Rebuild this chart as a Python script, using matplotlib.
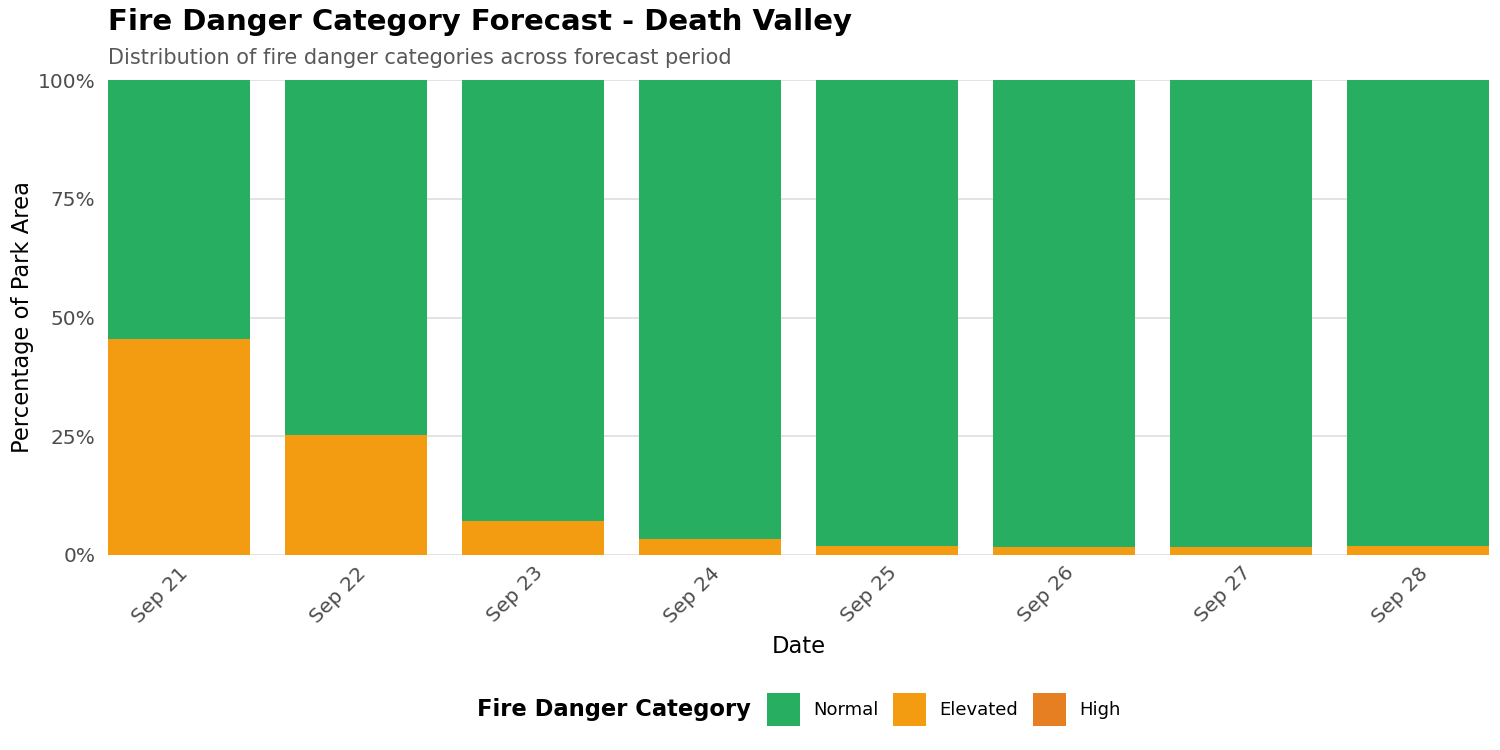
import numpy as np
import matplotlib.pyplot as plt
from matplotlib.patches import Patch
from matplotlib.ticker import FuncFormatter

# Forecast data (percentage of park area per category)
dates = ['Sep 21', 'Sep 22', 'Sep 23', 'Sep 24', 'Sep 25', 'Sep 26', 'Sep 27', 'Sep 28']
elevated = [45.5, 25.3, 7.1, 3.4, 2.0, 1.6, 1.6, 1.8]
high = [0, 0, 0, 0, 0, 0, 0, 0]
normal = [100 - e - h for e, h in zip(elevated, high)]

categories = ['Normal', 'Elevated', 'High']
colors = {'Normal': '#27ae60', 'Elevated': '#f39c12', 'High': '#e67e22'}

plt.rcParams['font.family'] = 'DejaVu Sans'

fig = plt.figure(figsize=(15, 7.5), dpi=100)
ax = fig.add_axes([0.072, 0.26, 0.9207, 0.6333])

x = np.arange(len(dates))
width = 0.8
ax.bar(x, elevated, width, color=colors['Elevated'], zorder=2)
ax.bar(x, high, width, bottom=elevated, color=colors['High'], zorder=2)
ax.bar(x, normal, width, bottom=np.add(elevated, high), color=colors['Normal'], zorder=2)

ax.set_xlim(-0.4, len(dates) - 0.6)
ax.set_ylim(0, 100)
ax.set_yticks([0, 25, 50, 75, 100])
ax.yaxis.set_major_formatter(FuncFormatter(lambda v, p: f'{v:.0f}%'))
ax.set_xticks(x)
ax.set_xticklabels(dates, rotation=45, ha='right', rotation_mode='anchor')

ax.grid(axis='y', color='#e0e0e0', linewidth=1.3, zorder=0)
for s in ax.spines.values():
    s.set_visible(False)
ax.tick_params(axis='both', length=0, labelsize=14.5, colors='#4d4d4d')
ax.tick_params(axis='x', pad=6)
ax.tick_params(axis='y', pad=9)

ax.set_xlabel('Date', fontsize=16.3, labelpad=6)
ax.set_ylabel('Percentage of Park Area', fontsize=16.3, labelpad=3)

fig.text(0.072, 0.970, 'Fire Danger Category Forecast - Death Valley',
         fontsize=21, fontweight='bold', va='center', ha='left')
fig.text(0.072, 0.923, 'Distribution of fire danger categories across forecast period',
         fontsize=15, color='#595959', va='center', ha='left')

# Legend at bottom with title on the left
fig.text(0.318, 0.054, 'Fire Danger Category', fontsize=16.3, fontweight='bold',
         va='center', ha='left')
handles = [Patch(facecolor=colors[c], label=c) for c in categories]
fig.legend(handles=handles, loc='center left', bbox_to_anchor=(0.511, 0.054),
           ncol=3, frameon=False, fontsize=13, handlelength=1.83, handleheight=2.45,
           handletextpad=0.75, columnspacing=0.8, borderpad=0, borderaxespad=0)

plt.savefig('out.png', dpi=100)
